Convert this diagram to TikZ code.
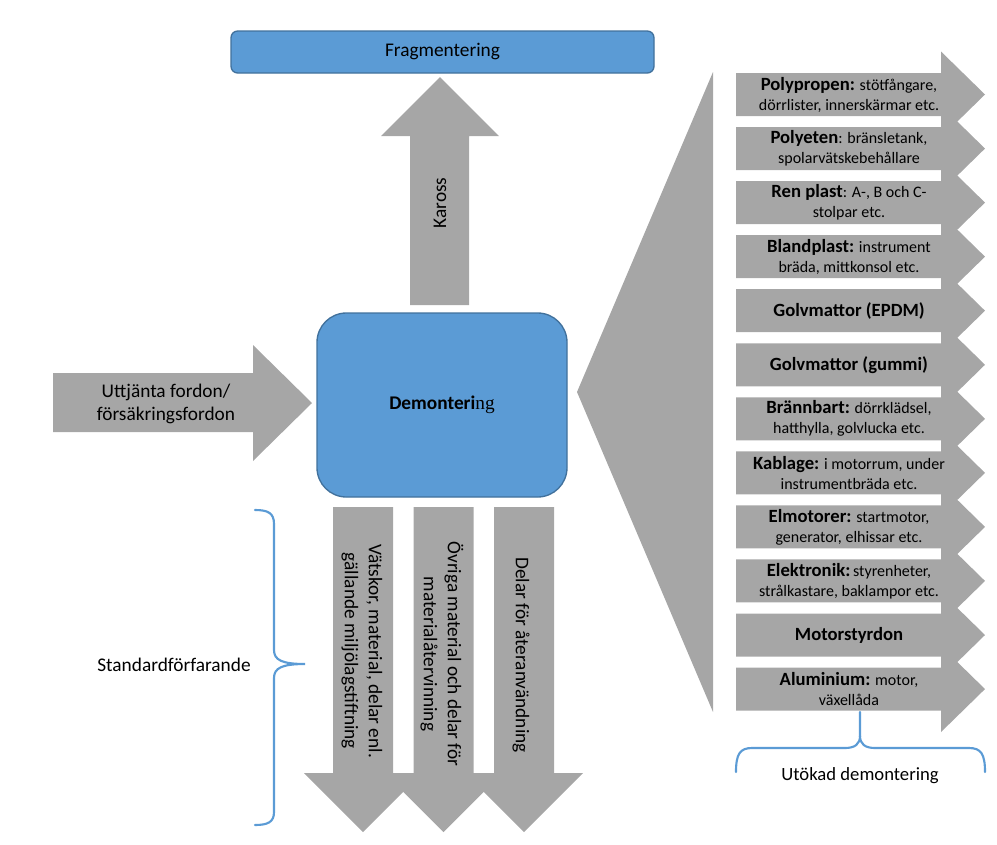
\documentclass[tikz,border=0pt]{standalone}
\usepackage{fontspec}
\setmainfont{Carlito}
\newfontfamily\serifng{Liberation Serif}
\definecolor{arrowgray}{HTML}{A6A6A6}
\definecolor{boxblue}{HTML}{5B9BD5}
\definecolor{boxedge}{HTML}{41719C}
\definecolor{bracecol}{HTML}{5B9BD5}
\begin{document}
\begin{tikzpicture}[x=0.75pt,y=-0.75pt,
  garrow/.style={fill=arrowgray,draw=none},
  bluebox/.style={fill=boxblue,draw=boxedge,line width=1pt,inner sep=0pt},
  bracestyle/.style={draw=bracecol,line width=1.6pt,line cap=round},
  biglbl/.style={font=\fontsize{14.5}{18}\selectfont,align=center,text=black,inner sep=0pt},
  smalllbl/.style={font=\fontsize{12}{15}\selectfont,align=center,text=black,inner sep=0pt}]
\useasboundingbox (0,0) rectangle (997,844);

% top box
\node[bluebox,rounded corners=5pt,minimum width=317.25pt,minimum height=31.5pt,biglbl] (frag) at (442.5,52) {Fragmentering};

% Kaross arrow
\fill[garrow] (410,305) -- (410,136) -- (381,136) -- (440,77) -- (499,136) -- (469,136) -- (469,305) -- cycle;
\node[biglbl,rotate=90] (kaross) at (440,203) {Kaross};

% left arrow
\fill[garrow] (53,373) -- (253,373) -- (253,345) -- (312,403) -- (253,461) -- (253,432) -- (53,432) -- cycle;
\node[biglbl,font=\fontsize{14.5}{17}\selectfont] (uttj) at (166,404) {Uttjänta fordon/\\försäkringsfordon};

% central box
\node[bluebox,rounded corners=22pt,minimum width=187.5pt,minimum height=138pt,biglbl] (demo) at (442,405) {{\bfseries Demonteri}{\serifng ng}};

% big triangle
\fill[garrow] (713,72) -- (577,392) -- (713,712) -- cycle;

% right arrows
\foreach \i in {0,...,11}{
  \pgfmathsetmacro\c{94.5+54.05*\i}
  \fill[garrow] (736,{\c-21.5}) -- (941,{\c-21.5}) -- (941,{\c-43}) -- (985,\c) -- (941,{\c+43}) -- (941,{\c+21.5}) -- (736,{\c+21.5}) -- cycle;
}
\node[smalllbl] (r1) at (849,94.5) {{\fontsize{14}{15}\selectfont\bfseries Polypropen:} stötfångare,\\dörrlister, innerskärmar etc.};
\node[smalllbl] (r2) at (849,148.55) {{\fontsize{14}{15}\selectfont\bfseries Polyeten}: bränsletank,\\spolarvätskebehållare};
\node[smalllbl] (r3) at (849,202.6) {{\fontsize{14}{15}\selectfont\bfseries Ren plast}: A-, B och C-\\stolpar etc.};
\node[smalllbl] (r4) at (849,256.65) {{\fontsize{14}{15}\selectfont\bfseries Blandplast:} instrument\\bräda, mittkonsol etc.};
\node[smalllbl] (r5) at (849,310.7) {{\fontsize{14}{15}\selectfont\bfseries Golvmattor (EPDM)}};
\node[smalllbl] (r6) at (849,364.75) {{\fontsize{14}{15}\selectfont\bfseries Golvmattor (gummi)}};
\node[smalllbl] (r7) at (849,418.8) {{\fontsize{14}{15}\selectfont\bfseries Brännbart:} dörrklädsel,\\hatthylla, golvlucka etc.};
\node[smalllbl] (r8) at (849,472.85) {{\fontsize{14}{15}\selectfont\bfseries Kablage:} i motorrum, under\\instrumentbräda etc.};
\node[smalllbl] (r9) at (849,526.9) {{\fontsize{14}{15}\selectfont\bfseries Elmotorer:} startmotor,\\generator, elhissar etc.};
\node[smalllbl] (r10) at (849,580.95) {{\fontsize{14}{15}\selectfont\bfseries Elektronik:}\,styrenheter,\\strålkastare, baklampor etc.};
\node[smalllbl] (r11) at (849,635) {{\fontsize{14}{15}\selectfont\bfseries Motorstyrdon}};
\node[smalllbl] (r12) at (849,689.05) {{\fontsize{14}{15}\selectfont\bfseries Aluminium:} motor,\\växellåda};

% bottom arrows
\foreach \cx in {363,443.5,524}{
  \fill[garrow] ({\cx-30},507) -- ({\cx+30},507) -- ({\cx+30},773) -- ({\cx+59},773) -- (\cx,832) -- ({\cx-59},773) -- ({\cx-30},773) -- cycle;
}
\node[biglbl,rotate=-90] (b1) at (362,651) {Vätskor, material, delar enl.\\gällande miljölagstiftning};
\node[biglbl,rotate=-90] (b2) at (442,654) {Övriga material och delar för\\materialåtervinning};
\node[biglbl,rotate=-90] (b3) at (521,655) {Delar för återanvändning};

% left brace
\draw[bracestyle] (255,510) .. controls (268,510) and (274,513) .. (274,524) -- (274,650) .. controls (274,660) and (282,664) .. (305,664) .. controls (282,664) and (274,668) .. (274,678) -- (274,812) .. controls (274,822) and (268,825) .. (255,825);
\node[biglbl] (std) at (174,665) {Standardförfarande};

% bottom brace
\draw[bracestyle] (736,772) .. controls (736,754) and (740,748) .. (752,748) -- (845,748) .. controls (855,748) and (860,744) .. (860,736) -- (860,712);
\draw[bracestyle] (860,736) .. controls (860,744) and (865,748) .. (875,748) -- (969,748) .. controls (981,748) and (985,754) .. (985,772);
\node[biglbl,font=\fontsize{14}{17}\selectfont] (utok) at (860,776) {Utökad demontering};
\end{tikzpicture}
\end{document}
